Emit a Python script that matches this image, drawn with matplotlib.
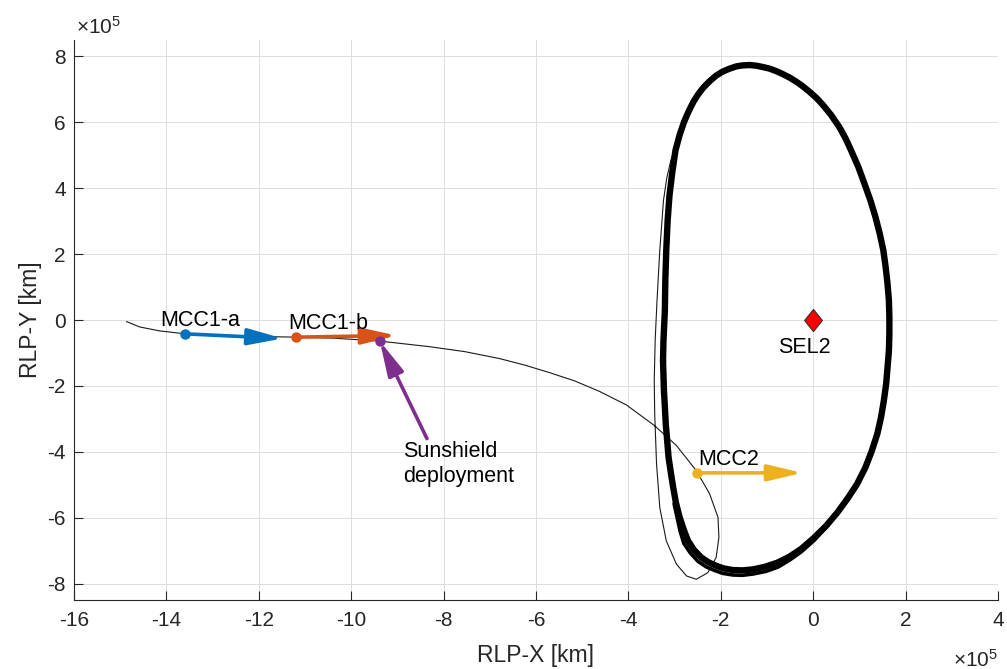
import numpy as np
import matplotlib
matplotlib.use('Agg')
import matplotlib.pyplot as plt
from matplotlib.ticker import FuncFormatter, MultipleLocator

plt.rcParams['font.family'] = ['Liberation Sans', 'DejaVu Sans']
plt.rcParams['mathtext.fontset'] = 'custom'
plt.rcParams['mathtext.rm'] = 'Liberation Sans'
plt.rcParams['mathtext.it'] = 'Liberation Sans:italic'

S = 1e5  # values below are read in units of 1e5 km

# transfer trajectory (launch -> MCCs -> first loop -> halo)
traj_x = np.array([-14.86, -14.58, -14.15, -13.59, -12.41, -11.19, -10.39, -9.38, -8.30, -7.54,
                   -6.79, -6.24, -5.70, -5.16, -4.62, -4.04, -3.43, -2.96, -2.53, -2.24,
                   -2.06, -2.04, -2.10, -2.28, -2.53, -2.74, -2.96, -3.18, -3.32, -3.39,
                   -3.43, -3.44, -3.42, -3.38, -3.32, -3.24, -3.17, -3.08, -2.97, -2.85,
                   -2.71]) * S
traj_y = np.array([-0.05, -0.21, -0.33, -0.42, -0.49, -0.52, -0.55, -0.64, -0.81, -0.96,
                   -1.17, -1.37, -1.60, -1.85, -2.17, -2.58, -3.21, -3.81, -4.57, -5.28,
                   -5.99, -6.60, -7.21, -7.67, -7.87, -7.77, -7.41, -6.70, -5.69, -4.37,
                   -2.85, -1.84, -0.62, 0.59, 2.11, 3.63, 4.30, 4.85, 5.30, 5.82,
                   6.43]) * S

# halo orbit around SEL2 (middle of the band of revolutions)
halo_x = np.array([-3.25, -3.24, -3.21, -3.20, -3.18, -3.15, -3.11, -3.05, -2.98, -2.89,
                   -2.79, -2.69, -2.59, -2.49, -2.38, -2.24, -2.10, -1.96, -1.81, -1.66,
                   -1.52, -1.37, -1.23, -1.09, -0.94, -0.79, -0.65, -0.51, -0.36, -0.23,
                   -0.08, 0.08, 0.21, 0.39, 0.57, 0.71, 0.83, 0.98, 1.11, 1.24,
                   1.35, 1.44, 1.52, 1.57, 1.61, 1.64, 1.65, 1.65, 1.64, 1.61,
                   1.58, 1.53, 1.47, 1.39, 1.27, 1.13, 0.95, 0.74, 0.52, 0.28,
                   0.02, -0.26, -0.52, -0.78, -1.04, -1.30, -1.53, -1.74, -1.94, -2.10,
                   -2.26, -2.42, -2.58, -2.71, -2.80, -2.89, -2.97, -3.03, -3.08, -3.13,
                   -3.16, -3.19, -3.21, -3.23, -3.24, -3.25]) * S
halo_y = np.array([-1.23, -0.62, 0.29, 1.20, 2.11, 3.02, 3.78, 4.48, 5.15, 5.62,
                   6.03, 6.35, 6.63, 6.85, 7.05, 7.25, 7.42, 7.54, 7.63, 7.70,
                   7.73, 7.74, 7.72, 7.68, 7.63, 7.55, 7.46, 7.36, 7.23, 7.10,
                   6.93, 6.73, 6.53, 6.22, 5.85, 5.49, 5.12, 4.64, 4.14, 3.63,
                   3.12, 2.63, 2.11, 1.60, 1.10, 0.59, 0.09, -0.41, -0.93, -1.44,
                   -1.94, -2.45, -2.95, -3.45, -3.97, -4.48, -4.98, -5.43, -5.85, -6.25,
                   -6.61, -6.95, -7.19, -7.37, -7.49, -7.57, -7.60, -7.59, -7.54, -7.46,
                   -7.36, -7.21, -6.98, -6.70, -6.37, -5.99, -5.55, -5.08, -4.64, -4.17,
                   -3.66, -3.16, -2.63, -2.14, -1.69, -1.23]) * S

# outer edge of the band near the bottom of the orbit (band is wider there)
halo_low_x = np.array([-3.01, -2.88, -2.80, -2.66, -2.49, -2.32, -2.14, -1.96, -1.74, -1.53,
                       -1.30, -1.02, -0.76, -0.51, -0.25, 0.03, 0.28, 0.50]) * S
halo_low_y = np.array([-5.58, -6.41, -6.78, -7.07, -7.33, -7.49, -7.60, -7.69, -7.74, -7.75,
                       -7.71, -7.63, -7.50, -7.29, -7.03, -6.68, -6.29, -5.87]) * S

# manoeuvres: (start point, arrow tip)
mcc1a_start, mcc1a_tip = (-13.59, -0.42), (-11.48, -0.56)
mcc1b_start, mcc1b_tip = (-11.19, -0.52), (-9.02, -0.47)
mcc2_start, mcc2_tip = (-2.52, -4.64), (-0.23, -4.64)
sunshield_pt, sunshield_tail = (-9.38, -0.64), (-8.36, -3.60)
sel2 = (0.0, 0.0)

c_blue, c_orange, c_yellow, c_purple = '#0072BD', '#D95319', '#EDB120', '#7E2F8E'
txt = '#262626'

fig = plt.figure(figsize=(10.07, 6.69), dpi=100)
ax = fig.add_axes([0.0735, 0.1031, 0.9175, 0.8371])

ax.plot(traj_x, traj_y, color='#1a1a1a', linewidth=0.8, zorder=3)
ax.plot(halo_x, halo_y, color='black', linewidth=4.6, solid_joinstyle='round',
        solid_capstyle='round', zorder=3)
ax.plot(halo_low_x, halo_low_y, color='black', linewidth=2.6, solid_capstyle='round',
        solid_joinstyle='round', zorder=3)


def arrow(start, tip, color):
    ax.annotate('', xy=(tip[0] * S, tip[1] * S), xytext=(start[0] * S, start[1] * S),
                arrowprops=dict(arrowstyle='-|>,head_length=1.4,head_width=0.33',
                                mutation_scale=15, color=color, lw=2.6,
                                shrinkA=0, shrinkB=0),
                zorder=5)


arrow(mcc1a_start, mcc1a_tip, c_blue)
arrow(mcc1b_start, mcc1b_tip, c_orange)
arrow(mcc2_start, mcc2_tip, c_yellow)
arrow(sunshield_tail, sunshield_pt, c_purple)

for pt, col in [(mcc1a_start, c_blue), (mcc1b_start, c_orange),
                (sunshield_pt, c_purple), (mcc2_start, c_yellow)]:
    ax.plot(pt[0] * S, pt[1] * S, 'o', color=col, markersize=6.5, zorder=6)

diamond = [(0, 1), (0.8, 0), (0, -1), (-0.8, 0), (0, 1)]
ax.plot(sel2[0] * S, sel2[1] * S, marker=diamond, color='red', markeredgecolor='#333333',
        markeredgewidth=0.8, markersize=16, linestyle='none', zorder=6)

fs = 15.5
ax.text(-14.14 * S, -0.19 * S, 'MCC1-a', fontsize=fs, color='black', va='baseline', zorder=7)
ax.text(-11.37 * S, -0.26 * S, 'MCC1-b', fontsize=fs, color='black', va='baseline', zorder=7)
ax.text(-0.19 * S, -1.00 * S, 'SEL2', fontsize=fs, color='black', ha='center', va='baseline', zorder=7)
ax.text(-2.49 * S, -4.39 * S, 'MCC2', fontsize=fs, color='black', va='baseline', zorder=7)
ax.text(-8.87 * S, -3.66 * S, 'Sunshield\ndeployment', fontsize=fs, color='black',
        va='top', linespacing=1.3, zorder=7)

ax.set_xlim(-16 * S, 4 * S)
ax.set_ylim(-8.5 * S, 8.5 * S)
ax.xaxis.set_major_locator(MultipleLocator(2 * S))
ax.yaxis.set_major_locator(MultipleLocator(2 * S))
tick_fmt = FuncFormatter(lambda v, p: '%d' % round(v / S))
ax.xaxis.set_major_formatter(tick_fmt)
ax.yaxis.set_major_formatter(tick_fmt)

ax.grid(True, color='#dedede', linewidth=0.7)
ax.set_axisbelow(True)
for side in ('top', 'right'):
    ax.spines[side].set_visible(False)
for side in ('left', 'bottom'):
    ax.spines[side].set_color(txt)
    ax.spines[side].set_linewidth(0.8)
ax.tick_params(direction='in', length=6.5, width=0.8, colors=txt, labelsize=15)
ax.tick_params(axis='x', pad=8)
ax.tick_params(axis='y', pad=6)

ax.set_xlabel('RLP-X [km]', fontsize=16.5, color=txt, labelpad=10)
ax.set_ylabel('RLP-Y [km]', fontsize=16.5, color=txt, labelpad=4)

# exponent labels, MATLAB style
fig.text(76 / 1007, 1 - 34 / 669, r'$\times10^{5}$', fontsize=15, color=txt,
         ha='left', va='baseline')
fig.text(998 / 1007, 1 - 667 / 669, r'$\times10^{5}$', fontsize=15, color=txt,
         ha='right', va='baseline')

fig.savefig('out.png', dpi=100, facecolor='white')
plt.close(fig)
